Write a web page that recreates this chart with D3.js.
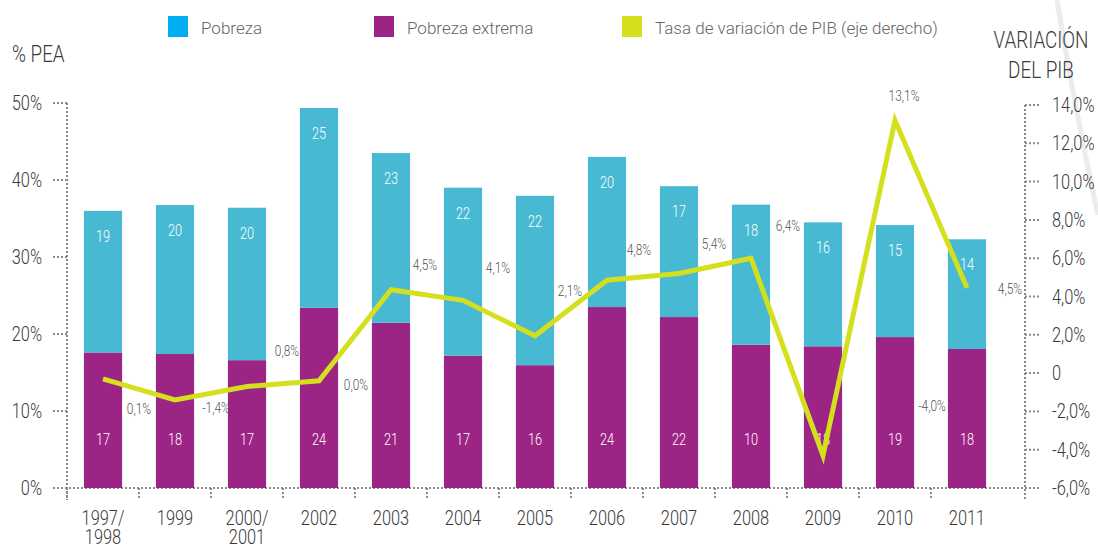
<!DOCTYPE html>
<html>
<head>
<meta charset="utf-8">
<script src="https://cdn.jsdelivr.net/npm/d3@7"></script>
<style>
  body { margin: 0; background: #fff; }
  svg { display: block; }
  .cond { font-family: Roboto, 'Noto Sans', sans-serif; font-weight: 300; fill: #3a3a3a; }
  .legend-label { font-family: Roboto, 'Noto Sans', sans-serif; font-weight: 300; fill: #666; }
</style>
</head>
<body>
<svg id="drawing_region"></svg>
<script>
// categories and series
const categories = ['1997/1998', '1999', '2000/2001', '2002', '2003', '2004', '2005',
                    '2006', '2007', '2008', '2009', '2010', '2011'];
const pobrezaExtrema = [17.6, 17.4, 16.6, 23.4, 21.45, 17.2, 15.95, 23.5, 22.2, 18.6, 18.4, 19.6, 18.05];
const pobreza = [18.4, 19.35, 19.8, 25.95, 22.05, 21.8, 22.0, 19.5, 17.0, 18.2, 16.1, 14.55, 14.25];
const pobrezaExtremaLabels = [17, 18, 17, 24, 21, 17, 16, 24, 22, 10, 18, 19, 18];
const pobrezaLabels = [19, 20, 20, 25, 23, 22, 22, 20, 17, 18, 16, 15, 14];
const pib = [-0.3, -1.4, -0.7, -0.4, 4.35, 3.8, 1.95, 4.85, 5.2, 6.0, -4.3, 13.2, 4.45];
const pibLabels = ['0,1%', '-1,4%', '0,8%', '0,0%', '4,5%', '4,1%', '2,1%', '4,8%', '5,4%', '6,4%', '-4,0%', '13,1%', '4,5%'];
const leftTicks = [0, 10, 20, 30, 40, 50];
const rightTicks = [-6, -4, -2, 0, 2, 4, 6, 8, 10, 12, 14];
const legendItems = ['Pobreza', 'Pobreza extrema', 'Tasa de variación de PIB (eje derecho)'];

// layout (label offsets from each line point)
const pibLabelOffset = [[36, 30], [41, 8], [40, -36], [37, 4], [34, -25], [35, -32], [35, -45],
                        [32, -30], [35, -30], [37, -32], [109, -49], [9, -24], [43, 1]];

const W = 1098, H = 547;
const colors = { pobreza: '#47b9d3', extrema: '#9c2484', pib: '#d4df1e', legendPobreza: '#00aeef', axis: '#8a8a8a' };
const SQUEEZE = 0.82;

const svg = d3.select('#drawing_region').attr('width', W).attr('height', H);

// condensed text: group at (x,y), text squeezed horizontally
function ctext(parent, x, y, str, size, anchor, fill, k) {
    const g = parent.append('g').attr('transform', `translate(${x},${y})`);
    const t = g.append('text')
        .attr('class', 'cond')
        .attr('transform', `scale(${k || SQUEEZE},1)`)
        .attr('font-size', size)
        .attr('text-anchor', anchor || 'start');
    if (str !== null) t.text(str);
    if (fill) t.style('fill', fill);
    return t;
}

// faint decorative curve top right
svg.append('path')
    .attr('d', 'M1057,0 Q1075,110 1098,215')
    .attr('fill', 'none').attr('stroke', '#ececec').attr('stroke-width', 5);

const xscale = d3.scaleBand().domain(categories).range([67, 1003]).paddingInner(0.47).paddingOuter(0.235);
const yleft = d3.scaleLinear().domain([0, 50]).range([488, 103]);
const yright = d3.scaleLinear().domain([-6, 14]).range([488, 105]);
const cx = d => xscale(d) + xscale.bandwidth() / 2;

const dotted = sel => sel.attr('stroke', colors.axis).attr('stroke-width', 2).attr('stroke-dasharray', '2,2').attr('fill', 'none');

// axes
const axisG = svg.append('g');
axisG.append('line').attr('x1', 67).attr('x2', 67).attr('y1', yleft(50)).attr('y2', 500).call(dotted);
axisG.append('line').attr('x1', 1025).attr('x2', 1025).attr('y1', yright(14)).attr('y2', 500).call(dotted);
axisG.append('line').attr('x1', 53).attr('x2', 1040).attr('y1', 488).attr('y2', 488).call(dotted);

axisG.selectAll('.lt').data(leftTicks).enter().append('line')
    .attr('x1', 53).attr('x2', 67).attr('y1', d => yleft(d)).attr('y2', d => yleft(d)).call(dotted);
leftTicks.forEach(d => ctext(axisG, 42, yleft(d) + 7, d + '%', 20, 'end'));

axisG.selectAll('.rt').data(rightTicks).enter().append('line')
    .attr('x1', 1025).attr('x2', 1040).attr('y1', d => yright(d)).attr('y2', d => yright(d)).call(dotted);
rightTicks.forEach(d => ctext(axisG, 1052, yright(d) + 7,
    d === 0 ? '0' : d.toFixed(1).replace('.', ',') + '%', 20, 'start'));

// x ticks at band boundaries
const bounds = categories.map(c => xscale(c) - xscale.step() * xscale.paddingInner() / 2);
axisG.selectAll('.xt').data(bounds).enter().append('line')
    .attr('x1', d => d).attr('x2', d => d).attr('y1', 488).attr('y2', 500).call(dotted);

categories.forEach(d => {
    const parts = d.split('/');
    const t = ctext(axisG, cx(d), 525, null, 20, 'middle');
    if (parts.length > 1) {
        t.append('tspan').attr('x', 0).text(parts[0] + '/');
        t.append('tspan').attr('x', 0).attr('dy', 19).text(parts[1]);
    } else {
        t.text(d);
    }
});

// axis titles
ctext(svg, 12, 62, '% PEA', 23, 'start');
ctext(svg, 1041, 48, 'VARIACIÓN', 23, 'middle');
ctext(svg, 1041, 78, 'DEL PIB', 23, 'middle');

// bars
const bars = svg.append('g');
bars.selectAll('.ext').data(categories).enter().append('rect')
    .attr('x', d => xscale(d)).attr('width', xscale.bandwidth())
    .attr('y', (d, i) => yleft(pobrezaExtrema[i]))
    .attr('height', (d, i) => yleft(0) - yleft(pobrezaExtrema[i]))
    .attr('fill', colors.extrema);
bars.selectAll('.pob').data(categories).enter().append('rect')
    .attr('x', d => xscale(d)).attr('width', xscale.bandwidth())
    .attr('y', (d, i) => yleft(pobrezaExtrema[i] + pobreza[i]))
    .attr('height', (d, i) => yleft(pobrezaExtrema[i]) - yleft(pobrezaExtrema[i] + pobreza[i]))
    .attr('fill', colors.pobreza);

categories.forEach((d, i) => {
    ctext(bars, cx(d), 445, pobrezaExtremaLabels[i], 17, 'middle', '#fff', 0.75);
    ctext(bars, cx(d), yleft(pobrezaExtrema[i] + pobreza[i]) + 31, pobrezaLabels[i], 17, 'middle', '#fff', 0.75);
});

// PIB line
const line = d3.line()
    .x((d, i) => cx(categories[i]))
    .y(d => yright(d));
svg.append('path')
    .datum(pib)
    .attr('d', line)
    .attr('fill', 'none')
    .attr('stroke', colors.pib)
    .attr('stroke-width', 5)
    .attr('stroke-linejoin', 'miter');

const pibG = svg.append('g');
pib.forEach((d, i) => {
    ctext(pibG, cx(categories[i]) + pibLabelOffset[i][0], yright(d) + pibLabelOffset[i][1] + 5,
        pibLabels[i], 14, 'middle', '#555', 0.85);
});

// legend
const legendX = [168, 374, 622];
const legendColors = [colors.legendPobreza, colors.extrema, colors.pib];
const legend = svg.append('g');
legendItems.forEach((name, i) => {
    legend.append('rect').attr('x', legendX[i]).attr('y', 16).attr('width', 20).attr('height', 21).attr('fill', legendColors[i]);
    legend.append('text').attr('class', 'legend-label').attr('x', legendX[i] + 33).attr('y', 34)
        .attr('font-size', 17).text(name);
});
</script>
</body>
</html>
